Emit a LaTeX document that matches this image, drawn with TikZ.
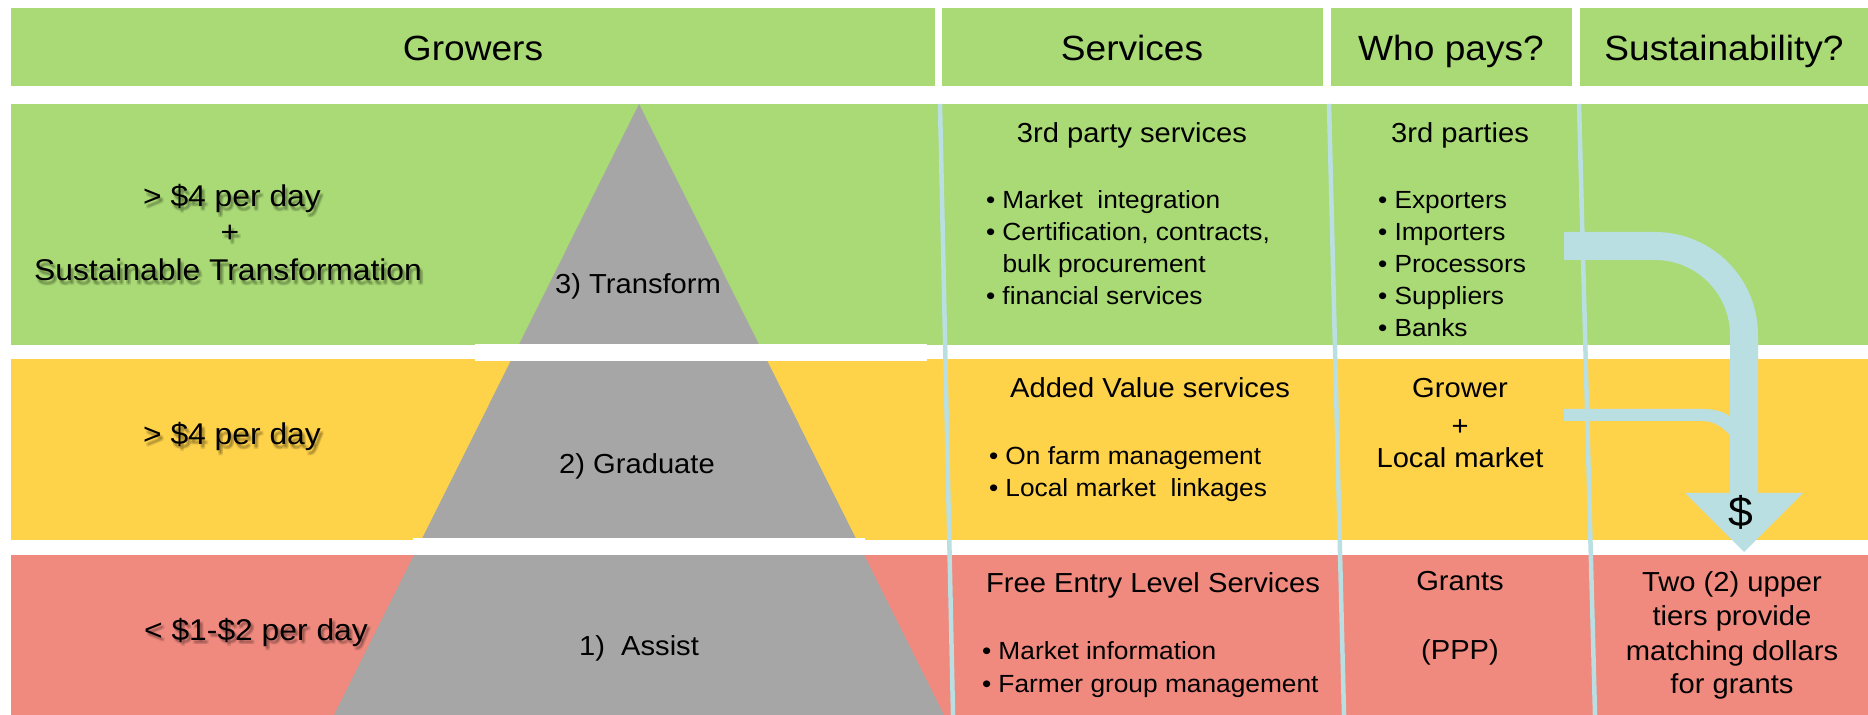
\documentclass[tikz,border=0pt]{standalone}
\usepackage{fontspec}
\setmainfont[FakeStretch=1.06]{Liberation Sans}
\definecolor{bandgreen}{RGB}{169,218,117}
\definecolor{bandyellow}{RGB}{254,210,73}
\definecolor{bandred}{RGB}{240,137,126}
\definecolor{pyrgray}{RGB}{166,166,166}
\definecolor{flowblue}{RGB}{185,223,227}
% label with a soft drop shadow: name, x, y, text
\newcommand\shadowlabel[4]{%
  \foreach \dx/\dy [count=\k] in {1.5/2.5,3.5/2.5,1.5/4.5,3.5/4.5,2.5/3.5}
    {\node[lbl,text opacity=0.085] (#1s\k) at ({#2+\dx},{#3+\dy}) {#4};}
  \node[lbl] (#1) at (#2,#3) {#4};}
\newcommand\bul{\makebox[8.25pt][l]{•}}
\begin{document}
\begin{tikzpicture}[x=0.5pt,y=-0.5pt,
  every node/.style={inner sep=0pt,outer sep=0pt},
  hdr/.style={anchor=base,font=\fontsize{17.5}{21}\selectfont},
  lbl/.style={anchor=base,font=\fontsize{15}{18}\selectfont},
  txt/.style={anchor=base,font=\fontsize{13.75}{16}\selectfont},
  item/.style={anchor=base west,font=\fontsize{12.4}{15}\selectfont},
  divider/.style={draw=flowblue,line width=2.25pt},
  gap/.style={fill=white}]
\useasboundingbox (0,0) rectangle (1868,715);

% header cells
\fill[bandgreen] (11,8) rectangle (935,86);
\fill[bandgreen] (942,8) rectangle (1323,86);
\fill[bandgreen] (1331,8) rectangle (1572,86);
\fill[bandgreen] (1580,8) rectangle (1868,86);

% income bands
\fill[bandgreen]  (11,104) rectangle (1868,345);
\fill[bandyellow] (11,359) rectangle (1868,540);
\fill[bandred]    (11,555) rectangle (1868,715);

% pyramid cut into tiers
\fill[pyrgray] (639,104) -- (944,715) -- (334,715) -- cycle;
\fill[gap] (475,344) rectangle (927,361);
\fill[gap] (413,538) rectangle (865,555);

% column dividers
\draw[divider] (940,104) -- (953,715);
\draw[divider] (1329,104) -- (1344,715);
\draw[divider] (1579,104) -- (1595,715);

% money flow arrow
\fill[flowblue] (1564,232) -- (1655,232)
  .. controls (1711.9,232) and (1758,278.1) .. (1758,335)
  -- (1758,493) -- (1803,493) -- (1744,552) -- (1685,493) -- (1730,493)
  -- (1730,335) .. controls (1730,293.6) and (1696.4,260) .. (1655,260)
  -- (1564,260) -- cycle;
\fill[flowblue] (1564,409) -- (1702,409)
  .. controls (1718,409) and (1728,413) .. (1734,421)
  -- (1734,440) .. controls (1724,427) and (1714,421) .. (1702,421)
  -- (1564,421) -- cycle;
\node[anchor=base,font=\fontsize{21}{24}\selectfont] (dollar) at (1741,527) {\$};

% headers
\node[hdr] (hgrow) at (473,61) {Growers};
\node[hdr] (hserv) at (1132,61) {Services};
\node[hdr] (hpay)  at (1451,61) {Who pays?};
\node[hdr] (hsus)  at (1724,61) {Sustainability?};

% grower income labels
\shadowlabel{gA}{232}{207}{> \$4 per day}
\shadowlabel{gB}{230}{243}{+}
\shadowlabel{gC}{228}{281}{Sustainable Transformation}
\shadowlabel{yA}{232}{445}{> \$4 per day}
\shadowlabel{rA}{256}{640}{< \$1-\$2 per day}

% pyramid tiers
\node[txt] (tier3) at (638,294) {3) Transform};
\node[txt] (tier2) at (637,474) {2) Graduate};
\node[txt] (tier1) at (639,655) {1)\ \ Assist};

% services
\node[txt] (s3) at (1132,143) {3rd party services};
\node[item] (s3a) at (986,209) {\bul Market\ \ integration};
\node[item] (s3b) at (986,241) {\bul Certification, contracts,};
\node[item] (s3c) at (1002.5,273) {bulk procurement};
\node[item] (s3d) at (986,305) {\bul financial services};

\node[txt] (s2) at (1150,398) {Added Value services};
\node[item] (s2a) at (989,465) {\bul On farm management};
\node[item] (s2b) at (989,497) {\bul Local market\ \ linkages};

\node[txt] (s1) at (1153,592) {Free Entry Level Services};
\node[item] (s1a) at (982,659) {\bul Market information};
\node[item] (s1b) at (982,692) {\bul Farmer group management};

% who pays
\node[txt] (p3) at (1460,143) {3rd parties};
\node[item] (p3a) at (1378,209) {\bul Exporters};
\node[item] (p3b) at (1378,241) {\bul Importers};
\node[item] (p3c) at (1378,273) {\bul Processors};
\node[item] (p3d) at (1378,305) {\bul Suppliers};
\node[item] (p3e) at (1378,337) {\bul Banks};

\node[txt] (p2a) at (1460,398) {Grower};
\node[txt] (p2b) at (1460,436) {+};
\node[txt] (p2c) at (1460,468) {Local market};

\node[txt] (p1a) at (1460,590) {Grants};
\node[txt] (p1b) at (1460,659) {(PPP)};

% sustainability
\node[txt] (u1) at (1732,591) {Two (2) upper};
\node[txt] (u2) at (1732,625) {tiers provide};
\node[txt] (u3) at (1732,660) {matching dollars};
\node[txt] (u4) at (1732,693) {for grants};
\end{tikzpicture}
\end{document}
